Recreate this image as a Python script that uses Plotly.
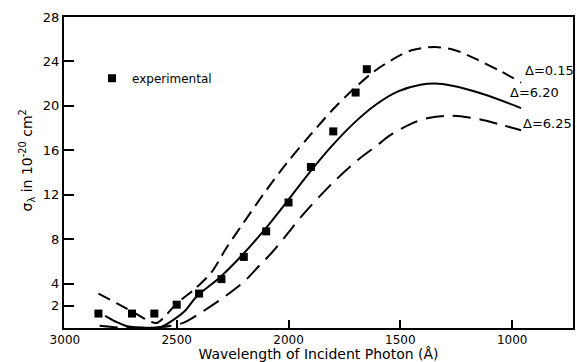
import plotly.graph_objects as go

# Measured photoionization cross-section (wavelength in Å, sigma in 1e-20 cm^2)
exp_wavelength = [2850, 2700, 2600, 2500, 2400, 2300, 2200, 2100, 2000, 1900, 1800, 1700, 1650]
exp_sigma = [1.3, 1.3, 1.3, 2.1, 3.1, 4.4, 6.4, 8.7, 11.3, 14.5, 17.7, 21.2, 23.3]

# Calculated curves for three values of Delta
d015_wavelength = [2850, 2765, 2675, 2620, 2590, 2560, 2500, 2420, 2345, 2278, 2207, 2100, 2010,
                   1910, 1805, 1715, 1630, 1550, 1450, 1345, 1255, 1150, 1050, 960]
d015_sigma = [3.1, 2.2, 1.2, 0.6, 0.45, 0.9, 2.2, 3.5, 5.0, 7.2, 9.3, 12.4, 14.8,
              17.2, 19.6, 21.4, 22.9, 24.0, 25.0, 25.3, 25.0, 24.1, 23.1, 22.1]

d620_wavelength = [2820, 2765, 2720, 2645, 2570, 2510, 2465, 2408, 2310, 2210, 2105, 2010,
                   1910, 1810, 1710, 1610, 1510, 1410, 1330, 1240, 1120, 960]
d620_sigma = [1.1, 0.5, 0.15, 0.02, 0.1, 0.8, 1.5, 2.9, 4.5, 6.5, 8.9, 11.3,
              13.9, 16.3, 18.4, 20.1, 21.3, 21.9, 22.0, 21.7, 21.0, 19.8]

d625_wavelength = [2845, 2760, 2680, 2600, 2523, 2466, 2390, 2287, 2198, 2131, 2074, 2000,
                   1953, 1806, 1686, 1600, 1550, 1450, 1375, 1270, 1150, 1050, 960]
d625_sigma = [0.2, 0.05, 0.02, 0.03, 0.2, 0.5, 1.4, 2.8, 4.2, 5.6, 6.8, 8.6,
              9.8, 13.0, 15.2, 16.5, 17.3, 18.4, 18.9, 19.1, 18.8, 18.3, 17.8]

curve_labels = ["Δ=0.15", "Δ=6.20", "Δ=6.25"]
label_wavelength = [831, 898, 844]
label_sigma = [23.2, 21.2, 18.4]

x_ticks = [3000, 2500, 2000, 1500, 1000]
y_ticks = [2, 4, 8, 12, 16, 20, 24, 28]

FONT = "DejaVu Sans"
fig = go.Figure()

fig.add_trace(go.Scatter(x=d015_wavelength, y=d015_sigma, mode="lines",
                         line=dict(color="black", width=2, dash="13px,7px", shape="spline", smoothing=0.9),
                         showlegend=False, hoverinfo="skip"))
fig.add_trace(go.Scatter(x=d620_wavelength, y=d620_sigma, mode="lines",
                         line=dict(color="black", width=2, shape="spline", smoothing=0.9),
                         showlegend=False, hoverinfo="skip"))
fig.add_trace(go.Scatter(x=d625_wavelength, y=d625_sigma, mode="lines",
                         line=dict(color="black", width=2, dash="18px,9px", shape="spline", smoothing=0.9),
                         showlegend=False, hoverinfo="skip"))
fig.add_trace(go.Scatter(x=exp_wavelength, y=exp_sigma, mode="markers", name="experimental",
                         marker=dict(symbol="square", size=8, color="black")))

for txt, lx, ly in zip(curve_labels, label_wavelength, label_sigma):
    fig.add_annotation(x=lx, y=ly, text=txt, showarrow=False,
                       font=dict(family=FONT, size=13, color="black"))

fig.add_annotation(xref="paper", yref="paper", x=-0.072, y=0.54, xanchor="center", yanchor="middle",
                   text="σ<sub>λ</sub> in 10<sup>-20</sup> cm<sup>2</sup>",
                   textangle=-90, showarrow=False,
                   font=dict(family=FONT, size=14, color="black"))

fig.update_layout(
    width=577, height=362,
    margin=dict(l=64, r=2, t=17, b=34),
    paper_bgcolor="white", plot_bgcolor="white",
    font=dict(family=FONT, size=13, color="black"),
    legend=dict(x=0.055, y=0.85, xanchor="left", yanchor="top",
                bgcolor="rgba(0,0,0,0)", font=dict(family=FONT, size=12)),
    xaxis=dict(range=[3004, 728], tickvals=x_ticks, ticks="inside", ticklen=8, tickwidth=2,
               tickcolor="black", showline=True, linewidth=2, linecolor="black", mirror=True,
               showgrid=False, zeroline=False, tickfont=dict(family=FONT, size=12),
               title=dict(text="Wavelength of Incident Photon (Å)", standoff=1,
                          font=dict(family=FONT, size=14))),
    yaxis=dict(range=[0, 28], tickvals=y_ticks, ticks="inside", ticklen=10, tickwidth=2,
               tickcolor="black", showline=True, linewidth=2, linecolor="black", mirror=True,
               showgrid=False, zeroline=False, tickfont=dict(family=FONT, size=13)),
)

fig.write_html("out.html")
